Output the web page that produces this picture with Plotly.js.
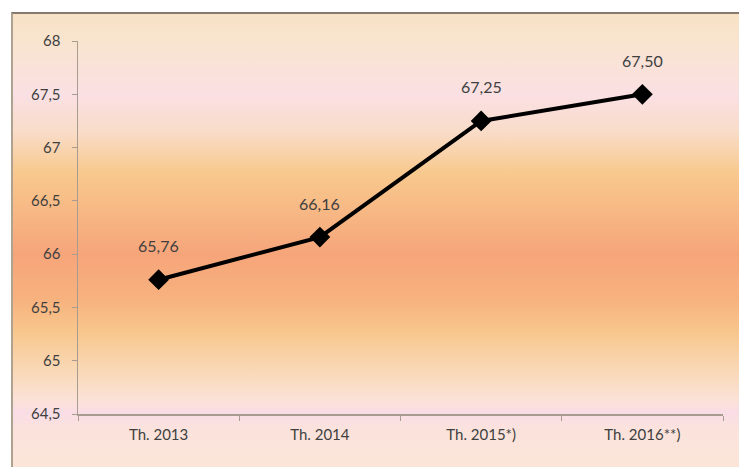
<!DOCTYPE html>
<html>
<head>
<meta charset="utf-8">
<script src="https://cdn.plot.ly/plotly-3.0.1.min.js"></script>
<style>
  html, body { margin: 0; padding: 0; background: #ffffff; }
  #wrap { position: relative; width: 739px; height: 467px; overflow: hidden; }
  #bg {
    position: absolute; left: 11px; top: 12px; width: 728px; height: 455px;
    box-sizing: border-box;
    border-top: 2px solid #857a6c; border-left: 2px solid #b0a290;
    background: linear-gradient(to bottom,
      #f7e2c6 0%, #f9e4cf 6%, #fae0e3 18%, #f9dcc8 26%, #f8c98e 35%,
      #f7b583 45%, #f6a57a 53%, #f7b27e 63%, #f8c68c 70%, #f9d7b3 78%,
      #fbe2d6 85%, #f9dde6 88%, #fbe3dc 92%, #fbe5d8 100%);
  }
  #chart { position: absolute; left: 0; top: 0; width: 739px; height: 467px; }
</style>
</head>
<body>
<div id="wrap">
  <div id="bg"></div>
  <div id="chart"></div>
</div>
<script>
const categories = ["Th. 2013", "Th. 2014", "Th. 2015*)", "Th. 2016**)"];
const values = [65.76, 66.16, 67.25, 67.50];
const yTickValues = [64.5, 65, 65.5, 66, 66.5, 67, 67.5, 68];

const FONT = "Lato, 'Open Sans', sans-serif";

const trace = {
  x: categories,
  y: values,
  type: "scatter",
  mode: "lines+markers",
  line: { color: "#000000", width: 4 },
  marker: { symbol: "diamond", size: 16, color: "#000000" },
  cliponaxis: false,
  hoverinfo: "none"
};

const annotations = categories.map((c, i) => ({
  x: c,
  y: values[i],
  xref: "x",
  yref: "y",
  text: values[i].toFixed(2).replace(".", ","),
  showarrow: false,
  yshift: 34,
  font: { family: FONT, size: 16, color: "#404040" }
}));

const layout = {
  width: 739,
  height: 467,
  margin: { l: 78, r: 16, t: 41, b: 53 },
  paper_bgcolor: "rgba(0,0,0,0)",
  plot_bgcolor: "rgba(0,0,0,0)",
  separators: ",.",
  showlegend: false,
  font: { family: FONT, size: 15, color: "#404040" },
  annotations: annotations,
  xaxis: {
    type: "category",
    range: [-0.5, 3.5],
    showgrid: false,
    zeroline: false,
    showline: true,
    linecolor: "#a89c90",
    linewidth: 1.5,
    ticks: "outside",
    tickson: "boundaries",
    ticklen: 5,
    tickcolor: "#a89c90",
    ticklabelstandoff: 6,
    tickfont: { family: FONT, size: 15, color: "#404040" },
    fixedrange: true
  },
  yaxis: {
    range: [64.5, 68],
    tickvals: yTickValues,
    showgrid: false,
    zeroline: false,
    showline: true,
    linecolor: "#a89c90",
    linewidth: 1.5,
    ticks: "outside",
    ticklen: 5,
    tickcolor: "#a89c90",
    ticklabelstandoff: 8,
    tickfont: { family: FONT, size: 15, color: "#404040" },
    fixedrange: true
  }
};

Plotly.newPlot("chart", [trace], layout, { displayModeBar: false, staticPlot: true });
</script>
</body>
</html>
